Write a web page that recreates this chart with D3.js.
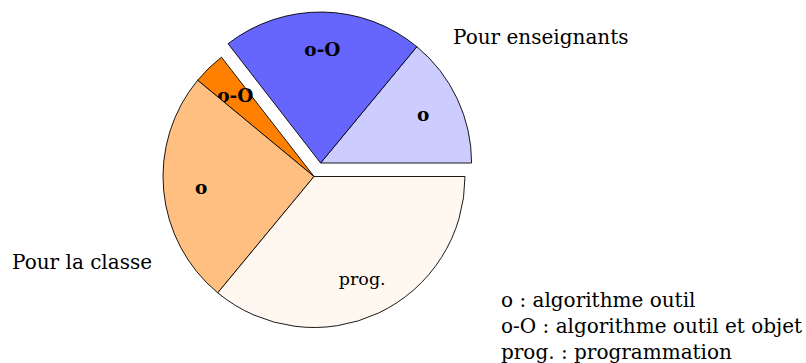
<!doctype html>
<html>
<head>
<meta charset="utf-8">
<script src="https://cdn.jsdelivr.net/npm/d3@7"></script>
<style>
  body { margin: 0; background: #fff; }
  svg { display: block; }
  text { font-family: "DejaVu Serif", "Liberation Serif", serif; fill: #000; }
  .lbl { font-size: 17.5px; text-anchor: middle; }
  .lbl.b { font-size: 18.5px; font-weight: bold; }
  .note { font-size: 20px; }
</style>
</head>
<body>
<svg id="chart" width="806" height="363"></svg>
<script>
// shares, counter-clockwise from 3 o'clock
var labels = ["o", "o-O", "o-O", "o", "prog."];
var values = [14, 21.5, 3.5, 25, 36];
var groups = ["enseignants", "enseignants", "classe", "classe", "classe"];
var bold = [true, true, true, true, false];
var colors = ["#ccccff", "#6666ff", "#ff8000", "#ffbf80", "#fff8f0"];
var legend = ["o : algorithme outil", "o-O : algorithme outil et objet", "prog. : programmation"];

var svg = d3.select("#chart"),
    cx = 314, cy = 176.5,
    r = 151,
    explode = 15;

var pie = d3.pie()
    .sort(null)
    .value(function(d) { return d; })
    .startAngle(Math.PI / 2)
    .endAngle(Math.PI / 2 - 2 * Math.PI);

var arcs = pie(values);

var arc = d3.arc().innerRadius(0).outerRadius(r);
var labelArc = d3.arc().innerRadius(r * 0.75).outerRadius(r * 0.75);

// group "enseignants" is pulled out as a whole
var teach = arcs.filter(function(d, i) { return groups[i] == "enseignants"; });
var mid = (teach[0].startAngle + teach[teach.length - 1].endAngle) / 2;
var off = {
  enseignants: [explode * Math.sin(mid), -explode * Math.cos(mid)],
  classe: [0, 0]
};

var g = svg.append("g").attr("transform", "translate(" + cx + "," + cy + ")");

arcs.forEach(function(d, i) {
  var o = off[groups[i]];
  var s = g.append("g").attr("transform", "translate(" + o[0] + "," + o[1] + ")");
  s.append("path")
    .attr("d", arc(d))
    .attr("fill", colors[i])
    .attr("stroke", "#000")
    .attr("stroke-width", 0.9)
    .attr("stroke-linejoin", "round");
  var c = labelArc.centroid(d);
  s.append("text")
    .attr("class", bold[i] ? "lbl b" : "lbl")
    .attr("x", c[0])
    .attr("y", c[1])
    .attr("dy", "0.35em")
    .text(labels[i]);
});

svg.append("text").attr("class", "note").attr("x", 453).attr("y", 44).text("Pour enseignants");
svg.append("text").attr("class", "note").attr("x", 12).attr("y", 269).text("Pour la classe");

svg.append("g").selectAll("text")
  .data(legend)
  .enter().append("text")
    .attr("class", "note")
    .attr("x", 501)
    .attr("y", function(d, i) { return 306.5 + i * 26; })
    .text(function(d) { return d; });
</script>
</body>
</html>
